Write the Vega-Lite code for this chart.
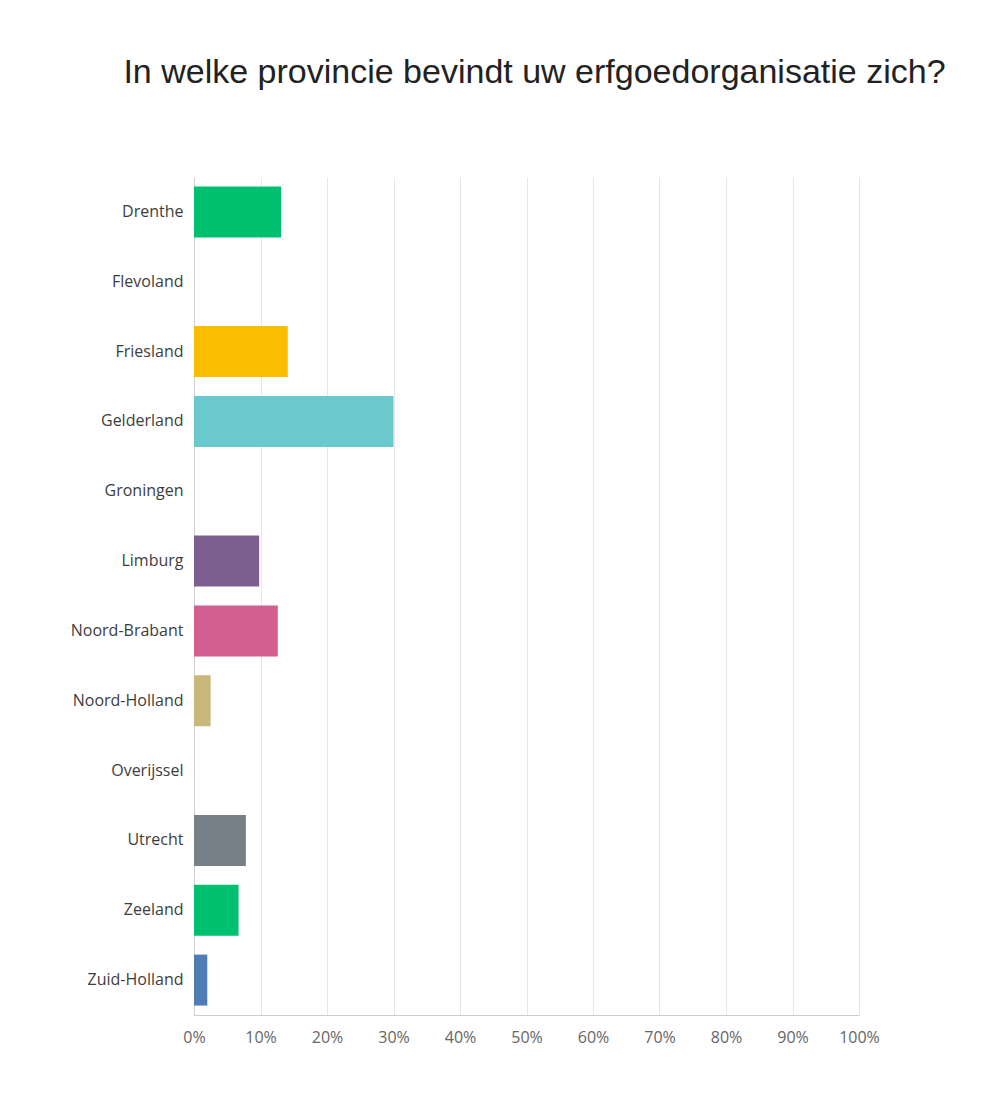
{
  "$schema": "https://vega.github.io/schema/vega-lite/v6.json",
  "background": "white",
  "padding": {"top": 56, "left": 5, "right": 5, "bottom": 60},
  "width": 665,
  "height": 838,
  "title": {
    "text": "In welke provincie bevindt uw erfgoedorganisatie zich?",
    "font": "Liberation Sans",
    "fontSize": 34,
    "fontWeight": "normal",
    "color": "#222222",
    "anchor": "middle",
    "dx": 8,
    "offset": 87
  },
  "data": {
    "values": [
      {"provincie": "Drenthe", "pct": 13.1},
      {"provincie": "Flevoland", "pct": 0},
      {"provincie": "Friesland", "pct": 14.1},
      {"provincie": "Gelderland", "pct": 30.0},
      {"provincie": "Groningen", "pct": 0},
      {"provincie": "Limburg", "pct": 9.8},
      {"provincie": "Noord-Brabant", "pct": 12.6},
      {"provincie": "Noord-Holland", "pct": 2.5},
      {"provincie": "Overijssel", "pct": 0},
      {"provincie": "Utrecht", "pct": 7.8},
      {"provincie": "Zeeland", "pct": 6.7},
      {"provincie": "Zuid-Holland", "pct": 2.0}
    ]
  },
  "mark": {"type": "bar"},
  "encoding": {
    "y": {
      "field": "provincie",
      "type": "nominal",
      "sort": null,
      "title": null,
      "scale": {"paddingInner": 0.27, "paddingOuter": 0.135},
      "axis": {
        "ticks": false,
        "domain": true,
        "domainColor": "#d0d0d0",
        "labelFont": "Open Sans",
        "labelFontSize": 16,
        "labelColor": "#3d3d3d",
        "labelPadding": 11,
        "minExtent": 189,
        "maxExtent": 189,
        "grid": false
      }
    },
    "x": {
      "field": "pct",
      "type": "quantitative",
      "title": null,
      "scale": {"domain": [0, 100], "nice": false},
      "axis": {
        "values": [0, 10, 20, 30, 40, 50, 60, 70, 80, 90, 100],
        "labelExpr": "datum.value + '%'",
        "ticks": false,
        "domainColor": "#cccccc",
        "grid": true,
        "gridColor": "#e6e6e6",
        "labelFont": "Open Sans",
        "labelFontSize": 16,
        "labelColor": "#666666",
        "labelPadding": 14,
        "labelFlush": false
      }
    },
    "color": {
      "field": "provincie",
      "type": "nominal",
      "legend": null,
      "scale": {
        "domain": ["Drenthe", "Flevoland", "Friesland", "Gelderland", "Groningen", "Limburg", "Noord-Brabant", "Noord-Holland", "Overijssel", "Utrecht", "Zeeland", "Zuid-Holland"],
        "range": ["#00BF6F", "#507CB6", "#F9BE00", "#6BC8CD", "#FF8B4F", "#7D5E90", "#D25F90", "#C8B87A", "#B5B5B5", "#768086", "#00BF6F", "#507CB6"]
      }
    }
  },
  "config": {
    "view": {"stroke": null}
  }
}
